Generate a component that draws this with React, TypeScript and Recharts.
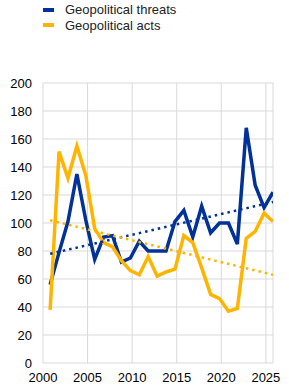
import { LineChart, Line, XAxis, YAxis, CartesianGrid } from 'recharts';

const BLUE = '#003299';
const YELLOW = '#ffb400';

// annual observations, plotted late in each year
const years = [
  2001, 2002, 2003, 2004, 2005, 2006, 2007, 2008, 2009, 2010, 2011, 2012, 2013,
  2014, 2015, 2016, 2017, 2018, 2019, 2020, 2021, 2022, 2023, 2024, 2025, 2026,
];
const threats = [
  56, 79, 101, 135, 102, 74, 90, 91, 72, 75, 87, 80, 80,
  80, 101, 109, 90, 112, 93, 100, 100, 85, 168, 127, 111, 122,
];
const acts = [
  38, 151, 132, 155, 134, 96, 86, 83, 73, 66, 63, 76, 62,
  65, 67, 91, 86, 68, 49, 46, 37, 39, 89, 94, 107, 101,
];
// linear trend start / end values
const threatsTrend = [78, 115];
const actsTrend = [102, 63];

const xTicks = [2000, 2005, 2010, 2015, 2020, 2025];
const yTicks = [0, 20, 40, 60, 80, 100, 120, 140, 160, 180, 200];

const data = years.map((y, i) => ({
  t: y - 0.2,
  threats: threats[i],
  acts: acts[i],
  threatsTrend: i === 0 ? threatsTrend[0] : i === years.length - 1 ? threatsTrend[1] : null,
  actsTrend: i === 0 ? actsTrend[0] : i === years.length - 1 ? actsTrend[1] : null,
}));

const FONT = 'Arial, "Liberation Sans", sans-serif';
const tick = { fill: '#000', fontSize: 13, fontFamily: FONT };

const legendItems = [
  { label: 'Geopolitical threats', color: BLUE },
  { label: 'Geopolitical acts', color: YELLOW },
];

export default function App() {
  return (
    <div style={{ position: 'absolute', left: 0, top: 0, width: 289, height: 390, background: '#fff' }}>
      <div style={{ position: 'absolute', left: 43, top: 2, fontFamily: FONT, fontSize: 13, color: '#222' }}>
        {legendItems.map((it) => (
          <div key={it.label} style={{ display: 'flex', alignItems: 'center', height: 15.5 }}>
            <span style={{ display: 'inline-block', width: 11, height: 4, background: it.color, marginRight: 11 }} />
            <span>{it.label}</span>
          </div>
        ))}
      </div>
      <LineChart width={289} height={390} data={data} margin={{ top: 83, right: 16, bottom: 0, left: 0 }}>
        <CartesianGrid stroke="#d9d9d9" strokeWidth={1} />
        <XAxis
          dataKey="t"
          type="number"
          domain={[2000, 2025.8]}
          ticks={xTicks}
          allowDataOverflow
          axisLine={false}
          tickLine={false}
          tick={tick}
          tickMargin={4}
          height={27}
        />
        <YAxis
          domain={[0, 200]}
          ticks={yTicks}
          axisLine={false}
          tickLine={false}
          tick={tick}
          tickMargin={5}
          width={43}
        />
        <Line dataKey="threats" stroke={BLUE} strokeWidth={3.5} dot={false} isAnimationActive={false} />
        <Line dataKey="acts" stroke={YELLOW} strokeWidth={3.5} dot={false} isAnimationActive={false} />
        <Line
          dataKey="threatsTrend"
          stroke={BLUE}
          strokeWidth={2.5}
          strokeDasharray="2.5 4"
          dot={false}
          connectNulls
          isAnimationActive={false}
        />
        <Line
          dataKey="actsTrend"
          stroke={YELLOW}
          strokeWidth={2.5}
          strokeDasharray="2.5 4"
          dot={false}
          connectNulls
          isAnimationActive={false}
        />
      </LineChart>
    </div>
  );
}
